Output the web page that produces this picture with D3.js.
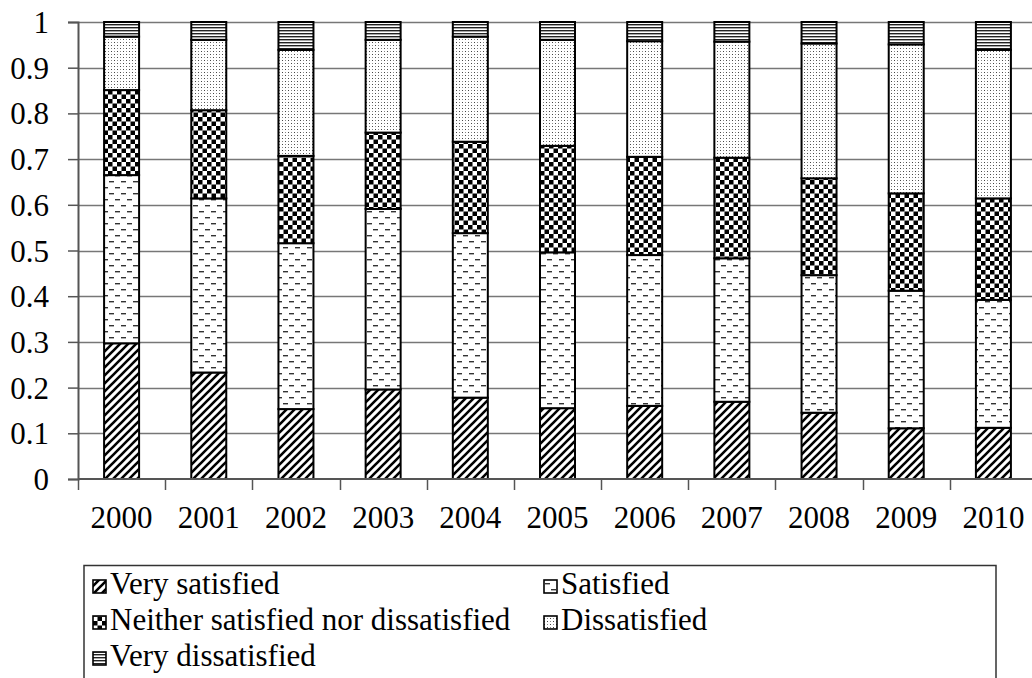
<!DOCTYPE html>
<html>
<head>
<meta charset="utf-8">
<script src="https://cdn.jsdelivr.net/npm/d3@7"></script>
<style>
	body { margin: 0; background: #fff; }
	svg { display: block; }
	svg text { font-family: 'Liberation Serif', 'Times New Roman', serif; }
</style>
</head>
<body>
<svg id="bgsvg" width="1032" height="678"></svg>
<script>

// data (shares per year)
const years          = ["2000","2001","2002","2003","2004","2005","2006","2007","2008","2009","2010"]
const verySatisfied  = [0.297, 0.233, 0.153, 0.196, 0.178, 0.155, 0.160, 0.169, 0.145, 0.111, 0.112]
const satisfied      = [0.368, 0.381, 0.363, 0.395, 0.360, 0.341, 0.330, 0.314, 0.301, 0.301, 0.280]
const neither        = [0.186, 0.193, 0.191, 0.167, 0.200, 0.233, 0.215, 0.220, 0.212, 0.213, 0.222]
const dissatisfied   = [0.117, 0.154, 0.232, 0.203, 0.230, 0.232, 0.253, 0.254, 0.295, 0.326, 0.325]
const veryDissatisfied = [0.032, 0.039, 0.061, 0.039, 0.032, 0.039, 0.042, 0.043, 0.047, 0.049, 0.061]
const seriesNames    = ["Very satisfied", "Satisfied", "Neither satisfied nor dissatisfied", "Dissatisfied", "Very dissatisfied"]
const yTicks         = [0, 0.1, 0.2, 0.3, 0.4, 0.5, 0.6, 0.7, 0.8, 0.9, 1]

const seriesValues = [verySatisfied, satisfied, neither, dissatisfied, veryDissatisfied]
const rows = years.map(function(y, i){
	let r = {year: y}
	seriesNames.forEach(function(s, k){ r[s] = seriesValues[k][i] })
	return r
})

const FONT = "'Liberation Serif', 'Times New Roman', serif"

const svg = d3.select("#bgsvg")

// plot runs a bit past the right edge, like the original
const plot = {left: 78, right: 1037, top: 22, bottom: 479}

const x = d3.scaleBand()
	.domain(years)
	.range([plot.left, plot.right])
	.paddingInner(0)
	.paddingOuter(0)

const y = d3.scaleLinear()
	.domain([0, 1])
	.range([plot.bottom, plot.top])

// ---- fill patterns, one per series (black & white Excel-like)
const defs = svg.append("defs")

function makePattern(id, w, h, drawFn){
	let p = defs.append("pattern")
		.attr("id", id)
		.attr("patternUnits", "userSpaceOnUse")
		.attr("width", w)
		.attr("height", h)
	p.append("rect").attr("width", w).attr("height", h).attr("fill", "#fff")
	drawFn(p)
}

// wide upward diagonal
makePattern("pat0", 8, 8, function(p){
	p.append("path")
		.attr("d", "M-2,2 L2,-2 M0,8 L8,0 M6,10 L10,6")
		.attr("stroke", "#000")
		.attr("stroke-width", 2.6)
})
// dashed horizontal
makePattern("pat1", 12, 12, function(p){
	p.append("rect").attr("x", 1).attr("y", 1).attr("width", 5).attr("height", 1.4).attr("fill", "#333")
	p.append("rect").attr("x", 7).attr("y", 7).attr("width", 5).attr("height", 1.4).attr("fill", "#333")
})
// large checkerboard
makePattern("pat2", 9, 9, function(p){
	p.append("rect").attr("x", 0).attr("y", 0).attr("width", 4.5).attr("height", 4.5).attr("fill", "#000")
	p.append("rect").attr("x", 4.5).attr("y", 4.5).attr("width", 4.5).attr("height", 4.5).attr("fill", "#000")
})
// dotted
makePattern("pat3", 6, 6, function(p){
	p.append("rect").attr("x", 0).attr("y", 0).attr("width", 1).attr("height", 1).attr("fill", "#444")
	p.append("rect").attr("x", 3).attr("y", 3).attr("width", 1).attr("height", 1).attr("fill", "#444")
	p.append("rect").attr("x", 3).attr("y", 0).attr("width", 1).attr("height", 1).attr("fill", "#888")
	p.append("rect").attr("x", 0).attr("y", 3).attr("width", 1).attr("height", 1).attr("fill", "#888")
})
// narrow horizontal
makePattern("pat4", 3, 3, function(p){
	p.append("rect").attr("x", 0).attr("y", 0).attr("width", 3).attr("height", 1.4).attr("fill", "#222")
})

// ---- gridlines
svg.append("g")
	.selectAll("line")
	.data(yTicks.filter(function(d){ return d > 0 }))
	.enter()
	.append("line")
	.attr("x1", plot.left)
	.attr("x2", 1032)
	.attr("y1", function(d){ return Math.round(y(d)) + 0.5 })
	.attr("y2", function(d){ return Math.round(y(d)) + 0.5 })
	.attr("stroke", "#777")
	.attr("stroke-width", 1.3)

// ---- stacked bars
const stack = d3.stack().keys(seriesNames)
const layers = stack(rows)
const barW = 35

svg.append("g")
	.selectAll("g")
	.data(layers)
	.enter()
	.append("g")
	.attr("fill", function(d, i){ return "url(#pat" + i + ")" })
	.selectAll("rect")
	.data(function(d){ return d })
	.enter()
	.append("rect")
	.attr("x", function(d){ return x(d.data.year) + x.bandwidth() / 2 - barW / 2 })
	.attr("y", function(d){ return y(d[1]) })
	.attr("width", barW)
	.attr("height", function(d){ return y(d[0]) - y(d[1]) })
	.attr("stroke", "#000")
	.attr("stroke-width", 2)

// ---- y axis
const yAxis = d3.axisLeft(y)
	.tickValues(yTicks)
	.tickSize(10)
	.tickPadding(19)
	.tickFormat(function(d){ return d3.format("")(+d.toFixed(1)) })

const gy = svg.append("g")
	.attr("transform", "translate(" + plot.left + ",0)")
	.call(yAxis)
	.attr("font-family", null)
gy.select(".domain").attr("stroke", "#555").attr("stroke-width", 2)
gy.selectAll(".tick line").attr("stroke", "#555").attr("stroke-width", 1.5)
gy.selectAll(".tick text")
	.style("font-family", FONT)
	.attr("font-size", 31)
	.attr("fill", "#000")
	.attr("dy", "0.34em")

// ---- x axis: ticks sit between the categories
const gx = svg.append("g")
	.attr("transform", "translate(0," + plot.bottom + ")")
gx.append("line")
	.attr("x1", plot.left)
	.attr("x2", plot.right)
	.attr("stroke", "#555")
	.attr("stroke-width", 2)
gx.selectAll(".sep")
	.data(years)
	.enter()
	.append("line")
	.attr("class", "sep")
	.attr("x1", function(d){ return Math.round(x(d)) + 0.5 })
	.attr("x2", function(d){ return Math.round(x(d)) + 0.5 })
	.attr("y1", 0)
	.attr("y2", 11)
	.attr("stroke", "#555")
	.attr("stroke-width", 1.5)
gx.selectAll("text")
	.data(years)
	.enter()
	.append("text")
	.attr("x", function(d){ return x(d) + x.bandwidth() / 2 })
	.attr("y", 49)
	.attr("text-anchor", "middle")
	.style("font-family", FONT)
	.attr("font-size", 31)
	.attr("fill", "#000")
	.text(function(d){ return d })

// ---- legend, two columns, box runs off the bottom
const legend = svg.append("g")
legend.append("path")
	.attr("d", "M84,680 L84,565.5 L996,565.5 L996,680")
	.attr("fill", "none")
	.attr("stroke", "#333")
	.attr("stroke-width", 1.5)

const legendPos = seriesNames.map(function(s, i){
	return {name: s, i: i, col: i % 2, row: Math.floor(i / 2)}
})

const item = legend.selectAll(".item")
	.data(legendPos)
	.enter()
	.append("g")
	.attr("class", "item")
	.attr("transform", function(d){ return "translate(" + (93 + d.col * 451) + "," + (594 + d.row * 36) + ")" })

item.append("rect")
	.attr("x", 0)
	.attr("y", -14)
	.attr("width", 13)
	.attr("height", 13)
	.attr("fill", function(d){ return "url(#pat" + d.i + ")" })
	.attr("stroke", "#000")
	.attr("stroke-width", 1.6)

item.append("text")
	.attr("x", 17)
	.attr("y", 0)
	.style("font-family", FONT)
	.attr("font-size", 31)
	.attr("fill", "#000")
	.text(function(d){ return d.name })

</script>
</body>
</html>
